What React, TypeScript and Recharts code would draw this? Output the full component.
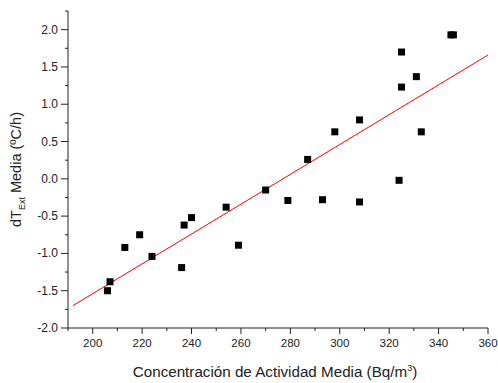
import { ScatterChart, Scatter, XAxis, YAxis, ReferenceLine } from "recharts"

const concentracion = [206, 207, 213, 219, 224, 236, 237, 240, 254, 259, 270, 279, 287, 293, 298, 308, 308, 324, 325, 325, 331, 333, 345, 346]
const dTExt = [-1.5, -1.38, -0.92, -0.75, -1.04, -1.19, -0.62, -0.52, -0.38, -0.89, -0.15, -0.29, 0.26, -0.28, 0.63, -0.31, 0.79, -0.02, 1.23, 1.7, 1.37, 0.63, 1.93, 1.93]

// linear fit endpoints
const fitX = [192, 360]
const fitY = [-1.7, 1.66]

const xTicks = [190, 200, 210, 220, 230, 240, 250, 260, 270, 280, 290, 300, 310, 320, 330, 340, 350, 360]
const yTicks = [-2, -1.75, -1.5, -1.25, -1, -0.75, -0.5, -0.25, 0, 0.25, 0.5, 0.75, 1, 1.25, 1.5, 1.75, 2, 2.25]

const data = concentracion.map((c, i) => ({ x: c, y: dTExt[i] }))

const FONT = "Arial, 'Liberation Sans', sans-serif"
const AXIS = "#222"

// eslint-disable-next-line @typescript-eslint/no-explicit-any
const XTick = (props: any) => {
  const { x, y, payload } = props
  const major = payload.value % 20 === 0
  return (
    <g>
      <line x1={x} y1={y} x2={x} y2={y + (major ? 6 : 3)} stroke={AXIS} />
      {major && (
        <text x={x} y={y + 19} textAnchor="middle" fontSize={11.5} fontFamily={FONT} fill="#222">
          {payload.value}
        </text>
      )}
    </g>
  )
}

// eslint-disable-next-line @typescript-eslint/no-explicit-any
const YTick = (props: any) => {
  const { x, y, payload } = props
  const major = Math.abs(payload.value * 2 - Math.round(payload.value * 2)) < 1e-6
  return (
    <g>
      <line x1={x} y1={y} x2={x - (major ? 7 : 3)} y2={y} stroke={AXIS} />
      {major && (
        <text x={x - 10} y={y + 4} textAnchor="end" fontSize={12} fontFamily={FONT} fill="#222">
          {payload.value.toFixed(1)}
        </text>
      )}
    </g>
  )
}

// eslint-disable-next-line @typescript-eslint/no-explicit-any
const Square = (props: any) => {
  const { cx, cy } = props
  return <rect x={cx - 3.5} y={cy - 3.5} width={7} height={7} fill="#000" />
}

export default function App() {
  return (
    <div style={{ position: "absolute", left: 0, top: 0, background: "#fff" }}>
      <ScatterChart width={498} height={383} margin={{ top: 11, right: 10, bottom: 0, left: 0 }}>
        <XAxis
          type="number"
          dataKey="x"
          domain={[190, 360]}
          ticks={xTicks}
          interval={0}
          height={55}
          tickSize={0}
          tickMargin={0}
          tickLine={false}
          tick={XTick}
          axisLine={{ stroke: AXIS }}
          allowDataOverflow
          label={{
            // eslint-disable-next-line @typescript-eslint/no-explicit-any
            content: (p: any) => {
              const vb = p.viewBox
              return (
                <text x={vb.x + vb.width / 2 - 3} y={vb.y + 49} textAnchor="middle" fontSize={15.2} fontFamily={FONT} fill="#222">
                  Concentración de Actividad Media (Bq/m
                  <tspan dy={-6} fontSize={9}>3</tspan>
                  <tspan dy={6}>)</tspan>
                </text>
              )
            },
          }}
        />
        <YAxis
          type="number"
          dataKey="y"
          domain={[-2, 2.25]}
          ticks={yTicks}
          interval={0}
          width={68}
          tickSize={0}
          tickMargin={0}
          tickLine={false}
          tick={YTick}
          axisLine={{ stroke: AXIS }}
          allowDataOverflow
          label={{
            // eslint-disable-next-line @typescript-eslint/no-explicit-any
            content: (p: any) => {
              const vb = p.viewBox
              const cx = vb.x + vb.width - 47
              const cy = vb.y + vb.height / 2
              return (
                <text x={cx} y={cy} transform={`rotate(-90 ${cx} ${cy})`} textAnchor="middle" fontSize={14.5} fontFamily={FONT} fill="#222">
                  dT
                  <tspan dy={4} fontSize={9}>Ext</tspan>
                  <tspan dy={-4}> Media (ºC/h)</tspan>
                </text>
              )
            },
          }}
        />
        <ReferenceLine
          segment={[
            { x: fitX[0], y: fitY[0] },
            { x: fitX[1], y: fitY[1] },
          ]}
          stroke="#ff0000"
          strokeWidth={1}
          ifOverflow="visible"
        />
        <Scatter data={data} shape={Square} isAnimationActive={false} />
      </ScatterChart>
    </div>
  )
}
